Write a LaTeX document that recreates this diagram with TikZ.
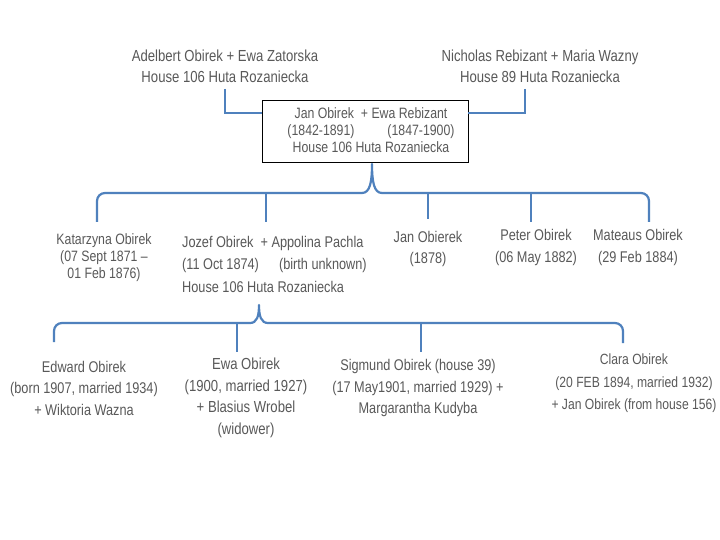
\documentclass[tikz,border=0pt]{standalone}
\usepackage{fontspec}
\setmainfont{Liberation Sans}[FakeStretch=0.82]
\definecolor{lineblue}{HTML}{4F81BD}
\definecolor{txtgray}{HTML}{595959}
\begin{document}
\begin{tikzpicture}[x=1pt,y=-1pt,
  conn/.style={draw=lineblue,line width=2.2pt},
  lbl/.style={text=txtgray,inner sep=0pt,align=center},
  fsA/.style={font=\fontsize{16}{21}\selectfont},
  fsB/.style={font=\fontsize{15}{17}\selectfont},
  fsC/.style={font=\fontsize{15.5}{21.5}\selectfont},
  fsE/.style={font=\fontsize{16}{21.5}\selectfont},
  fsL/.style={font=\fontsize{14.8}{22.5}\selectfont},
  fsK/.style={font=\fontsize{15}{17}\selectfont},
  fsJ/.style={font=\fontsize{15.5}{22.5}\selectfont},
]
\useasboundingbox (0,0) rectangle (720,540);
\fill[white] (0,0) rectangle (720,540);

% generation 1
\node[lbl,fsA] (p1) at (225,66.5) {Adelbert Obirek + Ewa Zatorska\\House 106 Huta Rozaniecka};
\node[lbl,fsA] (p2) at (540,66.5) {Nicholas Rebizant + Maria Wazny\\House 89 Huta Rozaniecka};
\node[draw=black,line width=0.7pt,minimum width=206pt,minimum height=62pt,inner sep=0pt] (jan) at (365,131) {};
\node[lbl,fsB] (jantxt) at (371,130.5)
  {Jan Obirek \ + Ewa Rebizant\\(1842-1891)\hspace{2.2em}(1847-1900)\\House 106 Huta Rozaniecka};

\coordinate (c1) at (225,89);
\coordinate (c2) at (525,89);
\draw[conn] (c1) |- (jan.west |- 0,113);
\draw[conn] (c2) |- (jan.east |- 0,113);

% generation 2
\node[lbl,fsK] (kat) at (104,258) {Katarzyna Obirek\\(07 Sept 1871 –\\01 Feb 1876)};
\node[lbl,fsJ,align=left,anchor=north west] (joz) at (182,236) {Jozef Obirek \ + Appolina Pachla\\(11 Oct 1874)\hspace{1.3em}(birth unknown)\\House 106 Huta Rozaniecka};
\node[lbl,fsC] (jno) at (428,249) {Jan Obierek\\(1878)};
\node[lbl,fsC] (pet) at (536,247.5) {Peter Obirek\\(06 May 1882)};
\node[lbl,fsC] (mat) at (638,247.5) {Mateaus Obirek\\(29 Feb 1884)};

\coordinate (b1l) at (97,222);
\coordinate (b1r) at (649,222);
\draw[conn,line join=round] (b1l) -- (97,201) to[out=90,in=180] (105,193) -- (362,193)
  .. controls (370,193) and (372,182) .. (372,164)
  .. controls (372,182) and (374,193) .. (382,193) -- (641,193) to[out=0,in=90] (b1r |- 0,201) -- (b1r);
\draw[conn] (266,193) -- (266,222);
\draw[conn] (428,193) -- (428,219);
\draw[conn] (531,193) -- (531,222);

% generation 3
\coordinate (b2l) at (54,342);
\coordinate (b2r) at (623,343);
\draw[conn,line join=round] (b2l) -- (54,331) to[out=90,in=180] (62,323) -- (250,323)
  .. controls (257,323) and (259,316) .. (259,305)
  .. controls (259,316) and (261,323) .. (268,323) -- (615,323) to[out=0,in=90] (623,331) -- (b2r);
\draw[conn] (237,323) -- (237,352);
\draw[conn] (421,323) -- (421,352);

\node[lbl,fsC] (edw) at (84,388) {Edward Obirek\\(born 1907, married 1934)\\+ Wiktoria Wazna};
\node[lbl,fsE] (ewa) at (246,398) {Ewa Obirek\\(1900, married 1927)\\+ Blasius Wrobel\\(widower)};
\node[lbl,fsC] (sig) at (418,388) {Sigmund Obirek (house 39)\\(17 May1901, married 1929) +\\Margarantha Kudyba};
\node[lbl,fsL] (cla) at (634,383.5) {Clara Obirek\\(20 FEB 1894, married 1932)\\+ Jan Obirek (from house 156)};
\end{tikzpicture}
\end{document}
